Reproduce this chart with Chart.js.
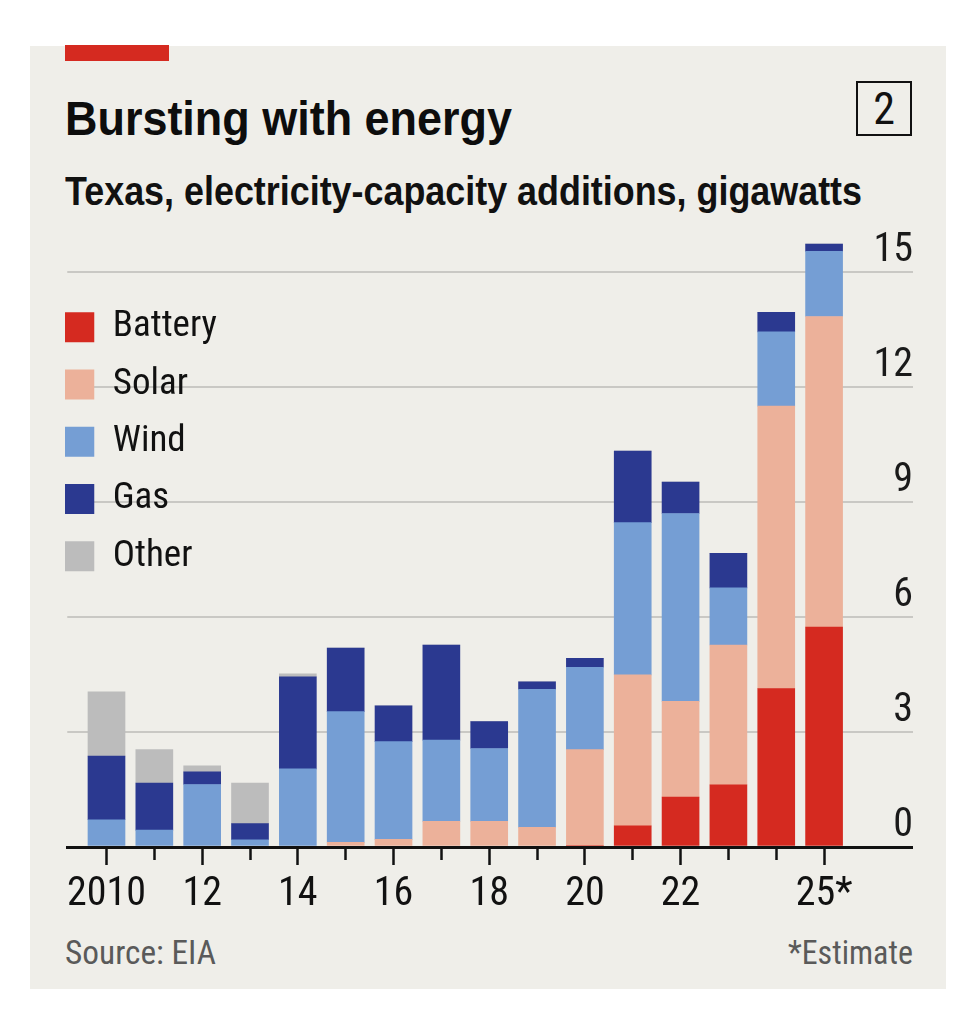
<!DOCTYPE html>
<html lang="en">
<head>
  <meta charset="utf-8">
  <title>Bursting with energy</title>
  <script src="https://cdn.jsdelivr.net/npm/chart.js@4/dist/chart.umd.min.js"></script>
  <style>
    body { margin:0; background:#fff; width:968px; height:1011px; position:relative; overflow:hidden; }
    .card { position:absolute; left:30px; top:46px; width:916px; height:943px; background:#efeee9; }
    .redbar { position:absolute; left:65px; top:45px; width:104px; height:16px; background:#d52a20; }
    .txt { position:absolute; white-space:nowrap; line-height:1; transform-origin:0 0; display:inline-block; }
    #title { left:65px; top:90px; font:bold 49px "Liberation Sans", Arial, sans-serif; color:#0d0d0d; }
    #subtitle { left:65px; top:169px; font:bold 40px "Liberation Sans", Arial, sans-serif; color:#111; }
    .badge { position:absolute; left:856px; top:81px; width:52px; height:51px; border:2.5px solid #111;
             font:44px "Roboto Condensed", "DejaVu Sans Condensed", "Liberation Sans Narrow", "Liberation Sans", sans-serif; color:#111;
             display:flex; align-items:center; justify-content:center; }
    .foot { top:933px; font:33px "Roboto Condensed", "DejaVu Sans Condensed", "Liberation Sans Narrow", "Liberation Sans", sans-serif; color:#5a5a5a; }
    #chartBox { position:absolute; left:65px; top:200px; width:848px; height:720px; }
  </style>
</head>
<body>
  <div class="card"></div>
  <div class="redbar"></div>
  <div id="title" class="txt">Bursting with energy</div>
  <div id="subtitle" class="txt">Texas, electricity-capacity additions, gigawatts</div>
  <div class="badge">2</div>
  <div id="chartBox"><canvas id="chart"></canvas></div>
  <div id="source" class="txt foot" style="left:65px">Source: EIA</div>
  <div id="estimate" class="txt foot" style="right:55px;transform-origin:100% 0">*Estimate</div>

  <script>
    // data, gigawatts added per year
    const years = [2010,2011,2012,2013,2014,2015,2016,2017,2018,2019,2020,2021,2022,2023,2024,2025];
    const tickLabels = ['2010','','12','','14','','16','','18','','20','','22','','','25*'];
    const battery = [0,0,0,0,0,0,0,0,0,0,0.04,0.55,1.30,1.62,4.13,5.74];
    const solar   = [0,0,0,0,0,0.12,0.20,0.67,0.67,0.51,2.50,3.94,2.50,3.65,7.37,8.10];
    const wind    = [0.71,0.44,1.63,0.19,2.04,3.41,2.55,2.12,1.90,3.60,2.15,3.97,4.90,1.49,1.94,1.70];
    const gas     = [1.66,1.23,0.33,0.42,2.40,1.66,0.93,2.48,0.70,0.20,0.23,1.87,0.82,0.90,0.51,0.19];
    const other   = [1.68,0.87,0.16,1.06,0.08,0,0,0,0,0,0,0,0,0,0,0];
    const yTicks  = [0,3,6,9,12,15];

    // fit the html texts to the widths they have in print
    function fitWidth(id, w){
      const el = document.getElementById(id);
      el.style.transform = `scaleX(${w / el.getBoundingClientRect().width})`;
    }
    fitWidth('title', 447);
    fitWidth('subtitle', 797);
    fitWidth('source', 151);
    fitWidth('estimate', 125);

    const FONT = '"Roboto Condensed", "DejaVu Sans Condensed", "Liberation Sans Narrow", "Liberation Sans", Arial, sans-serif';
    const mk = (label, data, color) => ({label, data, backgroundColor:color, borderWidth:0, barThickness:37});

    // move the in-plot legend to where the print edition has it
    const legendSpot = {
      id:'legendSpot',
      afterLayout(chart){
        const lg = chart.legend, a = chart.chartArea, pad = lg.options.labels.padding;
        lg.left = a.left - 3 - pad;
        lg.top = a.top + 75 - pad;
      }
    };

    new Chart(document.getElementById('chart'), {
      type:'bar',
      data:{
        labels: years,
        datasets:[
          mk('Battery', battery, '#d52a20'),
          mk('Solar', solar, '#ecb19a'),
          mk('Wind', wind, '#759ed4'),
          mk('Gas', gas, '#2b3990'),
          mk('Other', other, '#bcbcbc')
        ]
      },
      options:{
        responsive:true, maintainAspectRatio:false, animation:false,
        layout:{ padding:{ top:33.67, left:0, right:0, bottom:0 } },
        plugins:{
          tooltip:{ enabled:false },
          legend:{
            position:'chartArea', align:'start',
            labels:{ boxWidth:30, boxHeight:30, padding:20.3, color:'#111', font:{ family:FONT, size:37 } }
          }
        },
        scales:{
          x:{
            type:'linear', stacked:true, min:2009.18, max:2025.5, offset:false,
            border:{ display:true, color:'#111', width:3, z:1 },
            grid:{ offset:false, drawOnChartArea:false, drawTicks:true, tickLength:18, tickColor:'#111', tickWidth:2.5, z:1,
                   tickBorderDash: c => (tickLabels[years.indexOf(c.tick && c.tick.value)] ? [] : [11, 60]) },
            ticks:{ stepSize:1, includeBounds:false, maxTicksLimit:100, autoSkip:false, maxRotation:0, minRotation:0,
                    padding:2, color:'#111', font:{ family:FONT, size:40, lineHeight:1.4 },
                    callback: v => tickLabels[years.indexOf(v)] || '' },
            afterFit(s){ s.height = 73; }
          },
          y:{
            position:'right', stacked:true, min:0, max:16,
            border:{ display:false },
            afterBuildTicks(s){ s.ticks = yTicks.map(v => ({value:v})); },
            grid:{ color: c => c.tick.value === 0 ? '#111' : '#c9c8c4',
                   lineWidth: c => c.tick.value === 0 ? 3 : 2,
                   drawTicks:true, tickLength:65 },
            ticks:{ crossAlign:'far', padding:0, labelOffset:-21, color:'#1a1a1a', font:{ family:FONT, size:40 } },
            afterFit(s){ s.width = 65; }
          }
        }
      },
      plugins:[legendSpot]
    });
  </script>
</body>
</html>
